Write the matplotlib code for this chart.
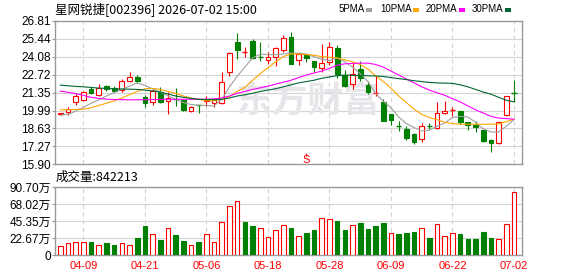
import matplotlib.pyplot as plt
import numpy as np
from matplotlib.patches import Rectangle

plt.rcParams['font.family'] = ['Liberation Sans', 'Noto Sans CJK SC', 'DejaVu Sans']

# ----------------------------------------------------------------------
# Datos (60 sesiones)
# ----------------------------------------------------------------------
date_labels = ["04-09", "04-21", "05-06", "05-18", "05-28", "06-09", "06-22", "07-02"]
date_idx = [3, 11, 19, 27, 35, 43, 51, 59]

opens = [19.72, 19.89, 20.61, 20.81, 21.62, 21.16, 21.83, 21.72, 21.52, 22.23,
         22.54, 20.99, 20.61, 21.37, 20.71, 20.91, 20.76, 19.94, 20.40, 20.70,
         20.55, 20.55, 22.90, 25.19, 24.40, 25.31, 24.06, 23.86, 24.04, 24.62,
         25.57, 23.86, 24.22, 23.78, 23.22, 23.66, 24.73, 22.69, 22.00, 23.15,
         21.93, 21.30, 20.61, 19.71, 18.82, 18.62, 18.19, 17.81, 18.84, 18.70,
         19.79, 20.00, 19.92, 19.13, 18.88, 18.52, 17.76, 17.50, 19.66, 21.33]
highs = [19.82, 20.27, 21.22, 21.47, 21.80, 22.00, 21.95, 21.87, 22.39, 22.94,
         22.69, 21.17, 21.62, 21.75, 21.37, 21.68, 20.86, 20.35, 20.44, 21.12,
         20.95, 22.92, 24.45, 25.89, 24.80, 25.44, 25.19, 24.42, 24.80, 25.74,
         25.95, 24.47, 24.29, 23.78, 25.06, 25.19, 24.98, 23.10, 23.61, 23.78,
         22.26, 22.64, 20.86, 19.71, 19.20, 18.78, 18.32, 19.03, 19.03, 20.65,
         20.73, 20.23, 19.97, 19.13, 19.20, 18.52, 17.86, 19.13, 21.11, 22.33]
lows = [19.62, 19.69, 20.45, 20.71, 21.22, 21.11, 21.47, 21.37, 21.42, 22.18,
        22.08, 20.23, 20.40, 20.55, 19.71, 20.33, 19.97, 19.89, 19.77, 20.36,
        20.30, 20.48, 22.64, 23.91, 24.04, 23.91, 23.78, 23.53, 23.40, 24.42,
        23.53, 23.45, 23.66, 22.90, 22.90, 23.45, 22.44, 21.75, 21.62, 22.26,
        21.24, 21.11, 19.20, 18.88, 18.44, 17.76, 17.48, 17.60, 18.57, 18.62,
        19.71, 19.58, 18.95, 18.52, 18.37, 17.60, 16.84, 17.43, 19.58, 20.61]
closes = [19.78, 20.10, 21.07, 21.37, 21.32, 21.72, 21.62, 21.47, 22.23, 22.51,
          22.23, 20.55, 21.47, 20.66, 20.94, 20.88, 20.02, 20.27, 20.38, 20.78,
          20.79, 22.13, 24.37, 24.62, 24.45, 23.96, 24.02, 24.04, 24.73, 25.49,
          23.53, 24.29, 23.96, 23.28, 23.61, 24.80, 22.77, 21.87, 22.77, 22.44,
          21.37, 21.33, 19.20, 19.28, 18.78, 17.94, 17.56, 18.82, 18.80, 19.84,
          19.97, 20.02, 19.13, 18.93, 18.72, 17.68, 17.50, 19.13, 21.07, 21.30]

ma5 = [19.64, 19.70, 19.95, 20.23, 20.55, 20.80, 21.10, 21.35, 21.60, 21.85,
       22.10, 21.90, 21.65, 21.40, 21.10, 20.85, 20.60, 20.45, 20.40, 20.37,
       20.35, 20.85, 21.80, 22.60, 23.30, 24.00, 24.29, 24.25, 24.25, 24.30,
       24.37, 24.35, 24.30, 24.10, 23.90, 23.80, 24.00, 23.70, 23.30, 22.80,
       22.20, 21.30, 20.70, 20.20, 19.50, 19.00, 18.70, 18.44, 18.50, 18.80,
       19.05, 19.46, 19.55, 19.50, 19.10, 18.60, 18.36, 18.35, 18.80, 19.30]
ma10 = [20.05, 20.05, 20.08, 20.10, 20.20, 20.38, 20.55, 20.72, 20.95, 21.20,
        21.45, 21.65, 21.68, 21.60, 21.45, 21.30, 21.10, 20.95, 20.85, 20.73,
        20.75, 20.85, 21.05, 21.45, 21.75, 22.30, 22.80, 23.25, 23.70, 24.10,
        24.30, 24.30, 24.25, 24.20, 24.10, 24.05, 24.00, 23.85, 23.70, 23.50,
        23.15, 22.65, 22.20, 21.70, 21.10, 20.60, 20.10, 19.70, 19.46, 19.30,
        19.10, 19.00, 18.95, 18.95, 18.95, 18.95, 18.95, 18.97, 19.15, 19.33]
ma20 = [21.47, 21.38, 21.28, 21.15, 21.00, 20.92, 20.86, 20.83, 20.82, 20.81,
        20.81, 20.82, 20.83, 20.84, 20.85, 20.85, 20.85, 20.85, 20.85, 20.86,
        20.88, 20.95, 21.10, 21.30, 21.45, 21.60, 21.72, 21.85, 22.00, 22.15,
        22.30, 22.50, 22.70, 22.85, 23.00, 23.20, 23.45, 23.55, 23.58, 23.60,
        23.60, 23.50, 23.30, 23.00, 22.70, 22.40, 22.10, 21.80, 21.55, 21.35,
        21.15, 20.90, 20.65, 20.35, 20.05, 19.80, 19.55, 19.42, 19.38, 19.33]
ma30 = [21.93, 21.88, 21.83, 21.80, 21.75, 21.70, 21.68, 21.65, 21.63, 21.62,
        21.60, 21.55, 21.49, 21.40, 21.25, 21.10, 21.00, 20.92, 20.85, 20.83,
        20.82, 20.85, 20.95, 21.10, 21.19, 21.30, 21.45, 21.55, 21.65, 21.80,
        21.95, 22.10, 22.20, 22.30, 22.45, 22.55, 22.65, 22.69, 22.67, 22.65,
        22.64, 22.62, 22.59, 22.50, 22.42, 22.35, 22.26, 22.20, 22.13, 22.10,
        22.08, 22.06, 21.95, 21.80, 21.60, 21.40, 21.24, 21.00, 20.78, 20.65]

# volumen en 万 (10k acciones); vol_up: cierre >= cierre anterior
volumes = [12.0, 15.5, 18.0, 17.0, 17.0, 14.0, 16.0, 13.5, 16.5, 14.0,
           22.7, 38.7, 27.5, 20.0, 35.5, 26.7, 18.7, 13.0, 17.3, 27.5,
           17.0, 43.5, 66.0, 71.5, 44.0, 38.7, 35.5, 24.0, 33.0, 39.5,
           36.0, 25.0, 29.0, 33.0, 50.0, 48.0, 45.0, 33.0, 40.0, 42.7,
           34.7, 38.7, 42.7, 29.0, 28.0, 29.3, 30.7, 35.5, 22.7, 42.0,
           25.0, 29.0, 28.0, 21.3, 21.3, 30.7, 22.7, 21.3, 42.0, 84.2]
vol_up = [1, 1, 1, 1, 0, 1, 0, 0, 1, 1,
          0, 0, 1, 0, 1, 0, 0, 1, 0, 1,
          1, 1, 1, 1, 0, 0, 1, 1, 1, 1,
          0, 1, 0, 0, 1, 1, 0, 0, 1, 0,
          0, 0, 0, 1, 0, 0, 0, 1, 0, 1,
          1, 1, 0, 0, 0, 0, 0, 1, 1, 1]

price_ticks = ["15.90", "17.27", "18.63", "19.99", "21.35", "22.72", "24.08", "25.44", "26.81"]
vol_ticks = [0, 22.67, 45.35, 68.02, 90.70]
vol_tick_labels = ["0", "22.67万", "45.35万", "68.02万", "90.70万"]

title = "星网锐捷[002396] 2026-07-02 15:00"
vol_title = "成交量:842213"
ma_names = ["5PMA", "10PMA", "20PMA", "30PMA"]

RED = "#ff0000"
GREEN = "#008000"
MA_COLORS = ["#a0a0a0", "#ffa500", "#ff00ff", "#006633"]
GRID = "#d4d4d4"
BORDER = "#999999"

W_PX, H_PX = 578, 276


def fx(px):
    return px / W_PX


def fy(py):
    return 1 - py / H_PX


fig = plt.figure(figsize=(W_PX / 100, H_PX / 100), dpi=100)
ax = fig.add_axes([fx(55), fy(164.3), fx(522.3) - fx(55), fy(21) - fy(164.3)])
axv = fig.add_axes([fx(55), fy(255), fx(522.3) - fx(55), fy(187) - fy(255)])

x = np.arange(len(opens))
xlim = (-0.69, 60.08)

# ----------------------------------------------------------------------
# Velas
# ----------------------------------------------------------------------
ax.text(32.3, 20.75, "东方财富", family="Noto Sans CJK SC", fontsize=26,
        fontweight="bold", color="#e6e6ea", ha="center", va="center", zorder=1)

for i in x:
    o, h, l, c = opens[i], highs[i], lows[i], closes[i]
    up = c >= o
    col = RED if up else GREEN
    ax.vlines(i, l, h, color=col, lw=0.8, zorder=3)
    lo, hi = min(o, c), max(o, c)
    if hi - lo < 0.06:
        ax.hlines((o + c) / 2, i - 0.33, i + 0.33, color=col, lw=1, zorder=4)
    else:
        ax.bar(i, hi - lo, bottom=lo, width=0.62,
               facecolor="white" if up else GREEN, edgecolor=col, lw=0.8, zorder=4)

for vals, col in zip([ma5, ma10, ma20, ma30], MA_COLORS):
    ax.plot(x, vals, color=col, lw=0.8, zorder=5)

# señal "S"
ax.vlines(32, 16.55, 16.75, color=RED, lw=0.8, zorder=5)
ax.text(32, 16.22, "S", color=RED, fontsize=8, ha="center", va="center", zorder=5)

pt = [float(t) for t in price_ticks]
ax.set_ylim(pt[0], pt[-1])
ax.set_yticks(pt, price_ticks)
ax.set_xlim(*xlim)
ax.set_xticks(date_idx)
ax.tick_params(axis="x", length=0, labelbottom=False)
ax.tick_params(axis="y", length=2, color=BORDER, pad=1, labelsize=8.5)
ax.grid(axis="y", color=GRID, lw=0.8, zorder=0)
ax.grid(axis="x", color=GRID, lw=0.8, ls=(0, (4, 3)), zorder=0)

# ----------------------------------------------------------------------
# Volumen
# ----------------------------------------------------------------------
for i in x:
    if vol_up[i]:
        axv.bar(i, volumes[i], width=0.6, facecolor="white", edgecolor=RED, lw=0.8, zorder=3)
    else:
        axv.bar(i, volumes[i], width=0.6, facecolor=GREEN, edgecolor=GREEN, lw=0.8, zorder=3)

axv.set_ylim(vol_ticks[0], vol_ticks[-1])
axv.set_yticks(vol_ticks, vol_tick_labels)
axv.set_xlim(*xlim)
axv.set_xticks(date_idx, date_labels)
axv.tick_params(axis="x", length=0, labelcolor=RED, labelsize=8, pad=4)
axv.tick_params(axis="y", length=2, color=BORDER, pad=1, labelsize=8.5)
axv.grid(axis="y", color=GRID, lw=0.8, zorder=0)
axv.grid(axis="x", color=GRID, lw=0.8, ls=(0, (4, 3)), zorder=0)

for a in (ax, axv):
    for s in a.spines.values():
        s.set_color(BORDER)
        s.set_linewidth(1)
    a.set_axisbelow(True)

# ----------------------------------------------------------------------
# Títulos y leyenda
# ----------------------------------------------------------------------
fig.text(fx(55), fy(9.5), title, family="Noto Sans CJK SC", fontsize=9, va="center")
fig.text(fx(56), fy(177.5), vol_title, family="Noto Sans CJK SC", fontsize=9, va="center")

leg_x = [339, 380, 426, 472]
sq_x = [366, 413, 459, 505]
for name, col, lx, sx in zip(ma_names, MA_COLORS, leg_x, sq_x):
    fig.text(fx(lx), fy(9.5), name, fontsize=7, va="center")
    fig.add_artist(Rectangle((fx(sx), fy(11.5)), fx(6), 4 / H_PX,
                             transform=fig.transFigure, facecolor=col, edgecolor="none"))

fig.savefig("out.png", dpi=100)
